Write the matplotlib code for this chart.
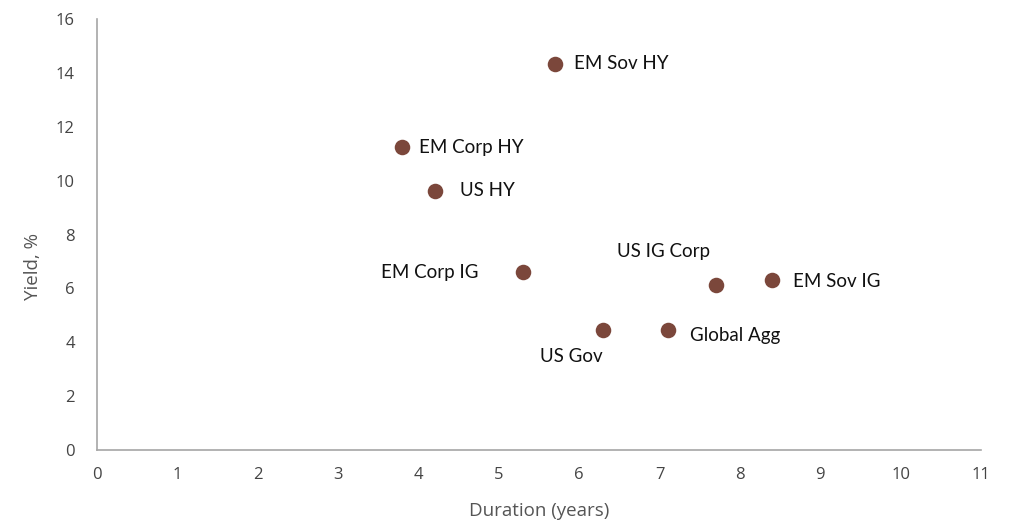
import matplotlib.pyplot as plt

names = ["EM Sov HY", "EM Corp HY", "US HY", "EM Corp IG", "US IG Corp",
         "EM Sov IG", "US Gov", "Global Agg"]
duration = [5.7, 3.8, 4.2, 5.3, 7.7, 8.4, 6.3, 7.1]
yields = [14.35, 11.25, 9.62, 6.6, 6.12, 6.3, 4.45, 4.45]

# label offsets in points (dx, dy, ha)
offsets = {
    "EM Sov HY": (14, 0, "left"),
    "EM Corp HY": (12, 0, "left"),
    "US HY": (18, 0, "left"),
    "EM Corp IG": (-32, 0, "right"),
    "US IG Corp": (-38, 24, "center"),
    "EM Sov IG": (15, -1, "left"),
    "US Gov": (-23, -19, "center"),
    "Global Agg": (16, -4, "left"),
}

fig = plt.figure(figsize=(10.24, 5.31), dpi=100)
ax = fig.add_axes([0.0947, 0.1525, 0.8633, 0.8115])

ax.scatter(duration, yields, s=125, color="#7b473b", zorder=3, linewidths=0)
for n, x, y in zip(names, duration, yields):
    dx, dy, ha = offsets[n]
    ax.annotate(n, (x, y), xytext=(dx, dy), textcoords="offset points",
                ha=ha, va="center", fontsize=13.5, family="Lato", color="#111111")

ax.set_xlim(0, 11)
ax.set_ylim(0, 16)
ax.set_xticks(range(0, 12))
ax.set_yticks(range(0, 17, 2))
for s in ["top", "right"]:
    ax.spines[s].set_visible(False)
for s in ["left", "bottom"]:
    ax.spines[s].set_color("#a6a6a6")
    ax.spines[s].set_linewidth(1.2)
ax.tick_params(length=0, pad=12, labelsize=12, labelcolor="#444444")
ax.tick_params(axis="y", pad=16)
for lbl in ax.get_xticklabels() + ax.get_yticklabels():
    lbl.set_family("Open Sans")

ax.set_xlabel("Duration (years)", fontsize=13.5, color="#555555", family="Open Sans", labelpad=14)
ax.set_ylabel("Yield, %", fontsize=13.5, color="#555555", family="Open Sans")
ax.yaxis.set_label_coords(-0.062, 0.427)

fig.savefig("out.png", dpi=100)
